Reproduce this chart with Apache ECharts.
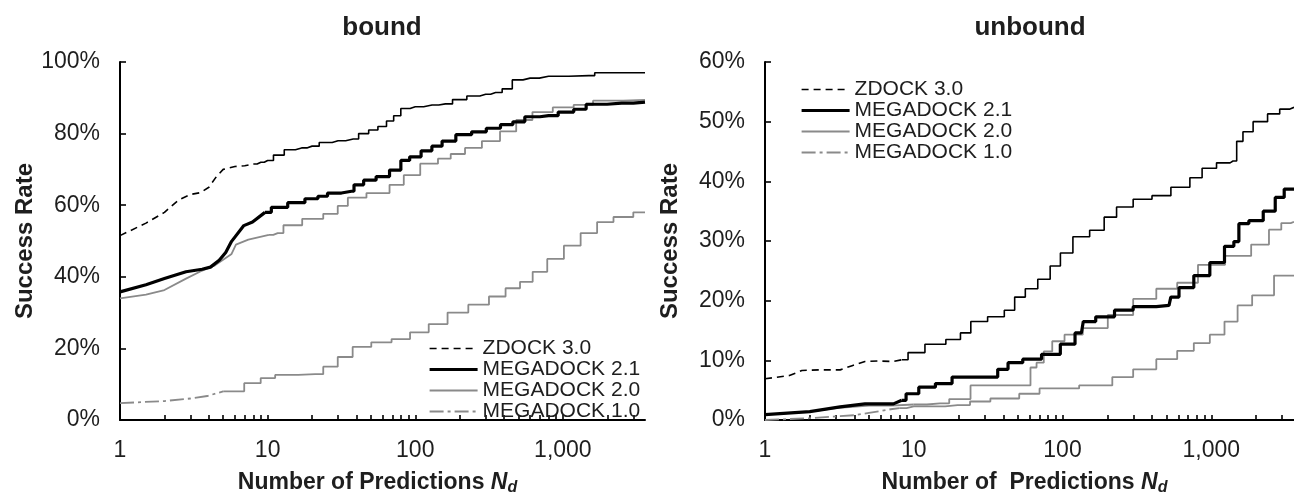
<!DOCTYPE html>
<html><head><meta charset="utf-8">
<script src="https://cdn.jsdelivr.net/npm/echarts@6/dist/echarts.min.js"></script>
<style>html,body{margin:0;padding:0;background:#fff}#c{width:1294px;height:501px}</style>
</head><body><div id="c"></div>
<script>
// ---------- data ----------
const seriesNames = ['ZDOCK 3.0', 'MEGADOCK 2.1', 'MEGADOCK 2.0', 'MEGADOCK 1.0'];
const chartTitles = ['bound', 'unbound'];
const xAxisTitles = ['Number of Predictions ', 'Number of  Predictions '];
const xLabelValues = [1, 10, 100, 1000];
const xTickValues = [2,3,4,5,6,7,8,9,10,20,30,40,50,60,70,80,90,100,200,300,400,500,600,700,800,900,1000,2000,3000];
const boundYTicks = [0, 20, 40, 60, 80, 100];
const unboundYTicks = [0, 10, 20, 30, 40, 50, 60];

// [number of predictions, success rate %]
const boundZdock = [[1,51.5],[1.5,55],[2,58],[2.5,61.5],[3,63],[3.5,63.5],[4,65],[4.5,68],[5,70],[6,70.8],[7,71],[8,71.5],[9,72],[10,72.5],[12,74],[14,75.5],[17,76],[20,76.5],[25,77.5],[30,78],[38,78.5],[45,80],[52,81],[60,82],[68,83.5],[75,85],[85,87],[100,87.5],[130,88],[160,88.3],[200,89.5],[250,90.5],[300,91],[350,91.5],[430,92.5],[480,95],[600,95.5],[800,96],[1500,96.2],[1800,97],[3600,97]];
const boundM21 = [[1,35.8],[1.5,37.8],[2,39.5],[2.8,41.4],[3.6,42.1],[4.1,42.7],[4.7,44.6],[5.2,46.8],[5.7,49.9],[6.9,54.3],[7.9,55.3],[9.6,58],[11.7,59.4],[16,60.7],[20,61.8],[24,62.5],[27,63.4],[37,63.9],[40,65.7],[50,67],[59,68],[76,69.8],[84,72.5],[100,73.5],[120,75.2],[140,76.5],[165,77.9],[215,79.7],[270,80.5],[340,81.5],[420,82.5],[500,83.3],[610,84.7],[800,85],[1080,86],[1300,86.8],[1590,88.2],[2500,88.5],[3600,88.8]];
const boundM20 = [[1,34],[1.5,35],[2,36.3],[2.8,39.5],[3.5,41.5],[4.4,43.2],[5.7,46.4],[6.1,49],[7.4,50.4],[10.2,51.7],[11.7,52.2],[14,54.4],[21,56.2],[27,57.6],[33,59.8],[37,62.1],[59,63.4],[76,65.7],[92,68.4],[127,71.6],[160,73],[189,74.3],[250,76],[320,77.9],[440,80.6],[530,83.8],[730,86],[1000,87.3],[1400,88],[1830,89.2],[3600,89.4]];
const boundM10 = [[1,4.7],[2,5.3],[3,6],[3.9,6.7],[5,8],[6.1,8],[7.9,10.3],[10.2,11.7],[12.4,12.6],[21,12.8],[27,14.9],[33,17.6],[43,20.4],[59,21.7],[81,22.6],[105,24.5],[145,26.8],[189,30],[277,32.2],[360,34.5],[465,36.8],[565,38.6],[690,41.4],[890,45],[1160,48.7],[1500,52.2],[1940,55.3],[2500,56.7],[3600,58]];

const unboundZdock = [[1,6.9],[1.46,7.45],[1.77,8.3],[2.3,8.4],[3.2,8.4],[3.85,9.1],[4.7,9.8],[5.7,9.9],[7.3,9.8],[8.3,10.1],[10.1,11.3],[14,12.7],[19.3,13.5],[22,14.6],[26.6,16.5],[37,17.3],[44.6,18.4],[51,20.6],[62,22],[75,23.6],[91,25.8],[103,28],[134,30.7],[173,31.8],[210,34],[254,35.7],[351,37],[455,37.6],[630,39],[819,40.6],[920,42.2],[1280,43.1],[1400,43.4],[1570,46.7],[1700,48.3],[2150,50],[2660,51.3],[3130,52.1],[3600,52.4]];
const unboundM21 = [[1,0.9],[2,1.4],[3.2,2.2],[4.7,2.7],[7.3,2.7],[8.3,3.3],[9.5,4.4],[12.3,5.5],[15.9,6.1],[20.6,7.2],[34.5,7.2],[39,8.5],[47.5,9.6],[61.5,10.2],[85,11],[110,12.7],[134,14.6],[142,16.5],[197,17.3],[254,18.4],[351,19],[520,19.2],[550,20.6],[670,22.2],[870,24.2],[1100,26.4],[1370,29.1],[1470,29.9],[1600,32.9],[2000,33.4],[2500,35],[2900,37.3],[3300,38.7],[3600,38.7]];
const unboundM20 = [[1,0.9],[2,1.4],[3,2],[5,2.4],[7,2.4],[10,2.6],[15,2.8],[20,3.5],[29,5.8],[58,5.8],[64,8.8],[70,9.6],[80,11.5],[91,13.2],[117,14.3],[160,15.4],[254,17.6],[351,20.3],[520,22],[670,23],[990,26],[1550,27.5],[2220,29.4],[2690,31.9],[3250,33],[3600,33.2]];
const unboundM10 = [[1,0],[2,0.3],[3,0.6],[4,0.8],[5,1.2],[6,1.5],[7,1.8],[8,2.0],[10,2.3],[13.4,2.3],[19.7,2.5],[29,3.1],[37,3.6],[48.5,3.6],[54,4.4],[91,5.3],[184,5.8],[254,7.2],[351,8.5],[520,10.2],[670,11.6],[870,12.9],[1100,14.3],[1370,16.5],[1650,19.2],[2150,20.9],[3250,24.2],[3600,24.2]];

// ---------- styling ----------
const FONT = '"Liberation Sans", Arial, sans-serif';
const TXT = '#1e1e1e';
const GRAY = '#8a8a8a';
const styles = {
  'ZDOCK 3.0':    {color:'#000', width:1.6, low:[7,5]},
  'MEGADOCK 2.1': {color:'#000', width:3.2, low:'solid'},
  'MEGADOCK 2.0': {color:GRAY,  width:1.8, low:'solid'},
  'MEGADOCK 1.0': {color:GRAY,  width:1.8, low:[14,4,3,4]}
};

const series = [];
function addSeries(gi, name, data, brk) {
  const st = styles[name];
  const low = data.filter(p => p[0] <= brk);
  const high = data.filter(p => p[0] >= brk);
  series.push({
    type:'line', name: name, xAxisIndex: gi, yAxisIndex: gi, data: low,
    symbol:'none', smooth:false, animation:false,
    lineStyle:{color:st.color, width:st.width, type:st.low}, itemStyle:{color:st.color}, z: 3
  });
  series.push({
    type:'line', name: name + ' (cont)', xAxisIndex: gi, yAxisIndex: gi, data: high,
    symbol:'none', step:'middle', animation:false,
    lineStyle:{color:st.color, width:st.width, type:'solid'}, itemStyle:{color:st.color}, z: 3
  });
}
addSeries(0, 'MEGADOCK 1.0', boundM10, 5);
addSeries(0, 'MEGADOCK 2.0', boundM20, 10.2);
addSeries(0, 'MEGADOCK 2.1', boundM21, 9.6);
addSeries(0, 'ZDOCK 3.0', boundZdock, 8);
addSeries(1, 'MEGADOCK 1.0', unboundM10, 8);
addSeries(1, 'MEGADOCK 2.0', unboundM20, 10);
addSeries(1, 'MEGADOCK 2.1', unboundM21, 8.3);
addSeries(1, 'ZDOCK 3.0', unboundZdock, 8.3);

function xAxis(gi) {
  return {
    gridIndex: gi, type:'log', logBase:10, min:1, max:3600,
    axisLine:{show:true, lineStyle:{color:'#000', width:2}},
    axisTick:{show:true, inside:true, length:5, customValues:xTickValues, lineStyle:{color:'#000', width:1.6}},
    minorTick:{show:false}, splitLine:{show:false},
    axisLabel:{customValues:xLabelValues, fontFamily:FONT, fontSize:23, color:TXT, margin:19,
      formatter: v => Math.round(v).toLocaleString('en-US')},
    name:'{t|' + xAxisTitles[gi] + '}{n|N}{s|d}', nameLocation:'middle', nameGap:50,
    nameTextStyle:{rich:{
      t:{fontFamily:FONT, fontWeight:'bold', fontSize:23, color:TXT},
      n:{fontFamily:FONT, fontWeight:'bold', fontStyle:'italic', fontSize:23, color:TXT},
      s:{fontFamily:FONT, fontWeight:'bold', fontStyle:'italic', fontSize:16, color:TXT, padding:[10,10,0,0]}
    }}
  };
}
function yAxis(gi, ticks) {
  return {
    gridIndex: gi, type:'value', min:ticks[0], max:ticks[ticks.length-1], interval: ticks[1]-ticks[0],
    axisLine:{show:true, lineStyle:{color:'#000', width:2}},
    axisTick:{show:true, inside:true, length:6, customValues:ticks, lineStyle:{color:'#000', width:1.6}},
    splitLine:{show:false},
    axisLabel:{customValues:ticks, formatter:'{value}%', fontFamily:FONT, fontSize:23, color:TXT, margin:20},
    name:'Success Rate', nameLocation:'middle', nameGap:83,
    nameTextStyle:{fontFamily:FONT, fontWeight:'bold', fontSize:24, color:TXT}
  };
}
function legendItems() {
  return seriesNames.map(n => ({name:n, lineStyle:{width:styles[n].width}, itemStyle:{opacity:0}}));
}
const legendBase = {
  orient:'vertical', itemWidth:48, itemHeight:12, itemGap:0, itemTextGap:8,
  selectedMode:false,
  textStyle:{fontFamily:FONT, fontSize:21, color:TXT, lineHeight:21}
};

const chart = echarts.init(document.getElementById('c'), null, {renderer:'canvas'});
chart.setOption({
  backgroundColor:'#fff',
  animation:false,
  grid:[
    {left:120, top:62, width:525, height:365, containLabel:false},
    {left:765, top:62, width:531, height:365, containLabel:false}
  ],
  xAxis:[xAxis(0), xAxis(1)],
  yAxis:[yAxis(0, boundYTicks), yAxis(1, unboundYTicks)],
  legend:[
    Object.assign({}, legendBase, {left:423, top:333, data:legendItems()}),
    Object.assign({}, legendBase, {left:795, top:74, data:legendItems()})
  ],
  graphic:[
    {type:'text', x:382, y:28, style:{text:chartTitles[0], font:'bold 26px ' + FONT, fill:TXT, align:'center', verticalAlign:'middle', textAlign:'center', textVerticalAlign:'middle'}},
    {type:'text', x:1030, y:28, style:{text:chartTitles[1], font:'bold 26px ' + FONT, fill:TXT, align:'center', verticalAlign:'middle', textAlign:'center', textVerticalAlign:'middle'}}
  ],
  series: series
});
</script></body></html>
